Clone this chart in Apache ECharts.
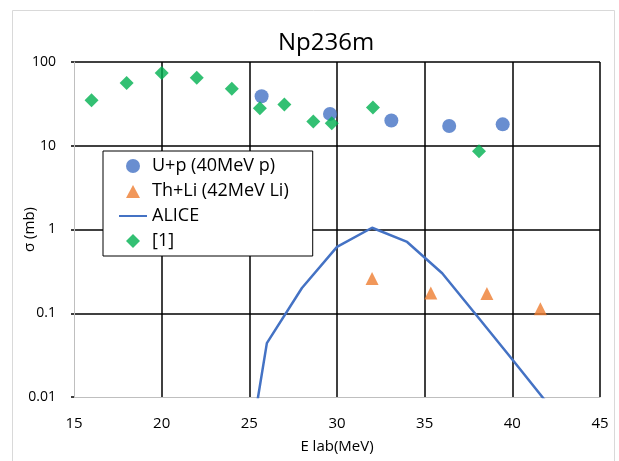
<!DOCTYPE html>
<html>
<head>
<meta charset="utf-8">
<script src="https://cdn.jsdelivr.net/npm/echarts@6/dist/echarts.min.js"></script>
<style>
    html, body { margin: 0; padding: 0; background: #fff; }
    #main { width: 619px; height: 461px; }
</style>
</head>
<body>
<div id="main"></div>
<script>
// U+p (40MeV p)
var upX = [25.7, 29.6, 33.1, 36.4, 39.45];
var upY = [39, 24, 20, 17.2, 18];
// Th+Li (42MeV Li)
var thX = [32.0, 35.35, 38.55, 41.6];
var thY = [0.26, 0.175, 0.172, 0.113];
// ALICE
var aliceX = [25, 26, 28, 30, 32, 34, 36, 38, 40, 42];
var aliceY = [0.0023, 0.044, 0.2, 0.62, 1.05, 0.71, 0.3, 0.092, 0.028, 0.0084];
// [1]
var refX = [16, 18, 20, 22, 24, 25.6, 27, 28.65, 29.7, 32.05, 38.1];
var refY = [35, 56, 74, 65, 48, 28, 31, 19.5, 18.6, 28.6, 8.6];

var yTicks = [0.01, 0.1, 1, 10, 100];

function pairs(xs, ys) {
    var out = [];
    for (var i = 0; i < xs.length; i++) {
        out.push([xs[i], ys[i]]);
    }
    return out;
}

// 图例图标：在 28x14 的框里画出不变形的三角形 / 菱形
var triIcon = 'path://M0,0L0,0M28,14L28,14M7,14L14,1L21,14Z';
var diaIcon = 'path://M0,0L0,0M28,14L28,14M14,0L21,7L14,14L7,7Z';

var myChart = echarts.init(document.getElementById('main'));
var font = '"Open Sans", "Noto Sans", sans-serif';
var option = {
    animation: false,
    backgroundColor: '#fff',
    // 外框
    graphic: [{
        type: 'rect',
        shape: { x: 12.5, y: 10.5, width: 602, height: 460 },
        style: { fill: 'none', stroke: '#d9d9d9', lineWidth: 1 },
        silent: true
    }],
    title: {
        text: 'Np236m',
        left: 273,
        top: 26,
        textStyle: {
            fontFamily: font,
            fontSize: 24,
            fontWeight: 'normal',
            color: '#000'
        }
    },
    legend: {
        orient: 'vertical',
        left: 103,
        top: 151,
        padding: [6, 24, 6, 15],
        itemGap: 7,
        itemWidth: 28,
        itemHeight: 14,
        backgroundColor: '#fff',
        borderColor: '#000',
        borderWidth: 1,
        textStyle: {
            fontFamily: font,
            fontSize: 18,
            lineHeight: 18,
            color: '#000'
        },
        data: [
            { name: 'U+p (40MeV p)', icon: 'circle' },
            { name: 'Th+Li (42MeV Li)', icon: triIcon },
            { name: 'ALICE', itemStyle: { color: 'rgba(0,0,0,0)', borderWidth: 0 } },
            { name: '[1]', icon: diaIcon }
        ]
    },
    grid: {
        left: 74,
        right: 19,
        top: 62,
        bottom: 64,
        outerBoundsMode: 'none'
    },
    xAxis: {
        type: 'value',
        min: 15,
        max: 45,
        interval: 5,
        name: 'E lab(MeV)',
        nameLocation: 'middle',
        nameGap: 42,
        nameMoveOverlap: false,
        nameTextStyle: { fontFamily: font, fontSize: 15, color: '#000' },
        axisLine: { show: true, lineStyle: { color: '#bfbfbf', width: 1 } },
        axisTick: { show: false },
        axisLabel: { fontFamily: font, fontSize: 15, color: '#000', margin: 19 },
        splitLine: { show: true, showMinLine: false, lineStyle: { color: '#000', width: 1.5 } }
    },
    yAxis: {
        type: 'log',
        logBase: 10,
        min: 0.01,
        max: 100,
        name: 'σ (mb)',
        nameLocation: 'middle',
        nameGap: 37,
        nameMoveOverlap: false,
        nameTextStyle: { fontFamily: font, fontSize: 15, color: '#000' },
        axisLine: { show: true, lineStyle: { color: '#bfbfbf', width: 1 } },
        axisTick: { show: true, length: 3, lineStyle: { color: '#000', width: 1.5 } },
        axisLabel: {
            fontFamily: font,
            fontSize: 14,
            color: '#000',
            margin: 18,
            formatter: function (v) {
                for (var i = 0; i < yTicks.length; i++) {
                    if (Math.abs(v - yTicks[i]) < yTicks[i] * 1e-6) return String(yTicks[i]);
                }
                return '';
            }
        },
        splitLine: { show: true, showMinLine: false, lineStyle: { color: '#000', width: 1.5 } }
    },
    series: [
        {
            name: 'U+p (40MeV p)',
            type: 'scatter',
            symbol: 'circle',
            symbolSize: 14,
            itemStyle: { color: '#4472C4' },
            data: pairs(upX, upY),
            z: 3
        },
        {
            name: 'Th+Li (42MeV Li)',
            type: 'scatter',
            symbol: 'triangle',
            symbolSize: 13,
            itemStyle: { color: '#ED7D31' },
            data: pairs(thX, thY),
            z: 3
        },
        {
            name: 'ALICE',
            type: 'line',
            symbol: 'none',
            clip: true,
            lineStyle: { color: '#4472C4', width: 2.5 },
            itemStyle: { color: '#4472C4' },
            data: pairs(aliceX, aliceY),
            z: 2
        },
        {
            name: '[1]',
            type: 'scatter',
            symbol: 'diamond',
            symbolSize: 14,
            itemStyle: { color: '#00B050' },
            data: pairs(refX, refY),
            z: 4
        }
    ]
};
myChart.setOption(option);
</script>
</body>
</html>
